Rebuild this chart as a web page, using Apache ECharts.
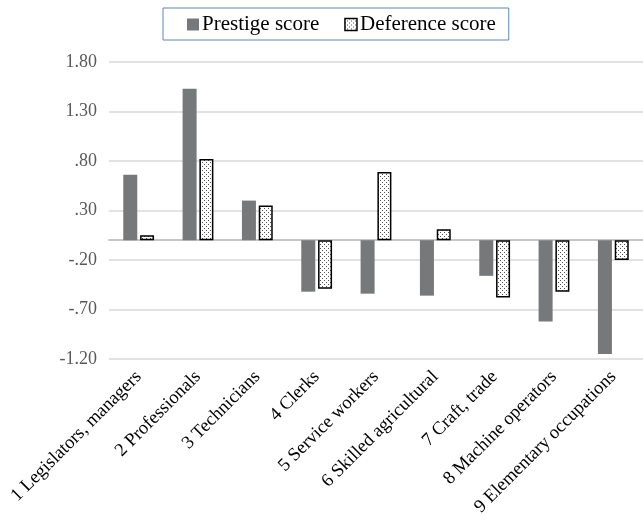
<!DOCTYPE html>
<html>
<head>
<meta charset="utf-8">
<script src="https://cdn.jsdelivr.net/npm/echarts@6/dist/echarts.min.js"></script>
<style>
html, body { margin: 0; padding: 0; background: #fff; }
#chart { width: 643px; height: 521px; }
</style>
</head>
<body>
<div id="chart"></div>
<script>
const categories = [
  '1 Legislators, managers', '2 Professionals', '3 Technicians', '4 Clerks',
  '5 Service workers', '6 Skilled agricultural', '7 Craft, trade',
  '8 Machine operators', '9 Elementary occupations'
];
const prestige = [0.66, 1.53, 0.40, -0.52, -0.54, -0.56, -0.36, -0.82, -1.15];
const deference = [0.05, 0.82, 0.35, -0.49, 0.69, 0.11, -0.58, -0.52, -0.20];
const tickValues = [-1.2, -0.7, -0.2, 0.3, 0.8, 1.3, 1.8];

// dotted fill for the deference bars
function dotPattern() {
  const c = document.createElement('canvas');
  c.width = 4; c.height = 4;
  const g = c.getContext('2d');
  g.fillStyle = '#ffffff';
  g.fillRect(0, 0, 4, 4);
  g.fillStyle = '#555555';
  g.fillRect(0, 0, 1, 1);
  g.fillRect(2, 2, 1, 1);
  return c;
}
const dots = { image: dotPattern(), repeat: 'repeat' };

function fmt(v) {
  const s = Math.abs(v).toFixed(2);
  const t = s.startsWith('0') ? s.slice(1) : s;
  return (v < 0 ? '-' : '') + t;
}

const chart = echarts.init(document.getElementById('chart'), null, { renderer: 'canvas' });
chart.setOption({
  animation: false,
  textStyle: { fontFamily: 'Liberation Serif' },
  legend: {
    top: 8,
    left: 163,
    padding: [6, 13, 5, 24],
    borderColor: '#5b86c0',
    borderWidth: 1,
    itemWidth: 12,
    itemHeight: 12,
    itemGap: 25,
    textStyle: { fontFamily: 'Liberation Serif', fontSize: 21, color: '#000', padding: [0, 0, 0, -2] },
    data: [
      { name: 'Prestige score', icon: 'rect' },
      { name: 'Deference score', icon: 'rect', itemStyle: { color: dots, borderColor: '#000', borderWidth: 1.5 } }
    ]
  },
  grid: { left: 109, right: 0, top: 62, bottom: 162, outerBoundsMode: 'none', containLabel: false },
  xAxis: {
    type: 'category',
    data: categories,
    axisLine: { onZero: true, lineStyle: { color: '#c6c6c6', width: 2 } },
    axisTick: { show: false },
    axisLabel: {
      interval: 0,
      rotate: 45,
      margin: 15,
      fontFamily: 'Liberation Serif',
      fontSize: 18.5,
      color: '#000'
    }
  },
  yAxis: {
    type: 'value',
    min: -1.2,
    max: 1.8,
    axisLine: { show: false },
    axisTick: { show: false, customValues: tickValues },
    splitLine: { show: true, lineStyle: { color: '#d9d9d9', width: 1.5 } },
    axisLabel: {
      customValues: tickValues,
      formatter: fmt,
      margin: 12,
      fontFamily: 'Liberation Serif',
      fontSize: 18,
      color: '#595959'
    }
  },
  series: [
    {
      name: 'Prestige score',
      type: 'bar',
      data: prestige,
      barWidth: 14,
      barGap: '20%',
      itemStyle: { color: '#76787a' }
    },
    {
      name: 'Deference score',
      type: 'bar',
      data: deference,
      barWidth: 14,
      itemStyle: { color: dots, borderColor: '#000', borderWidth: 1.5 }
    }
  ]
});
</script>
</body>
</html>
